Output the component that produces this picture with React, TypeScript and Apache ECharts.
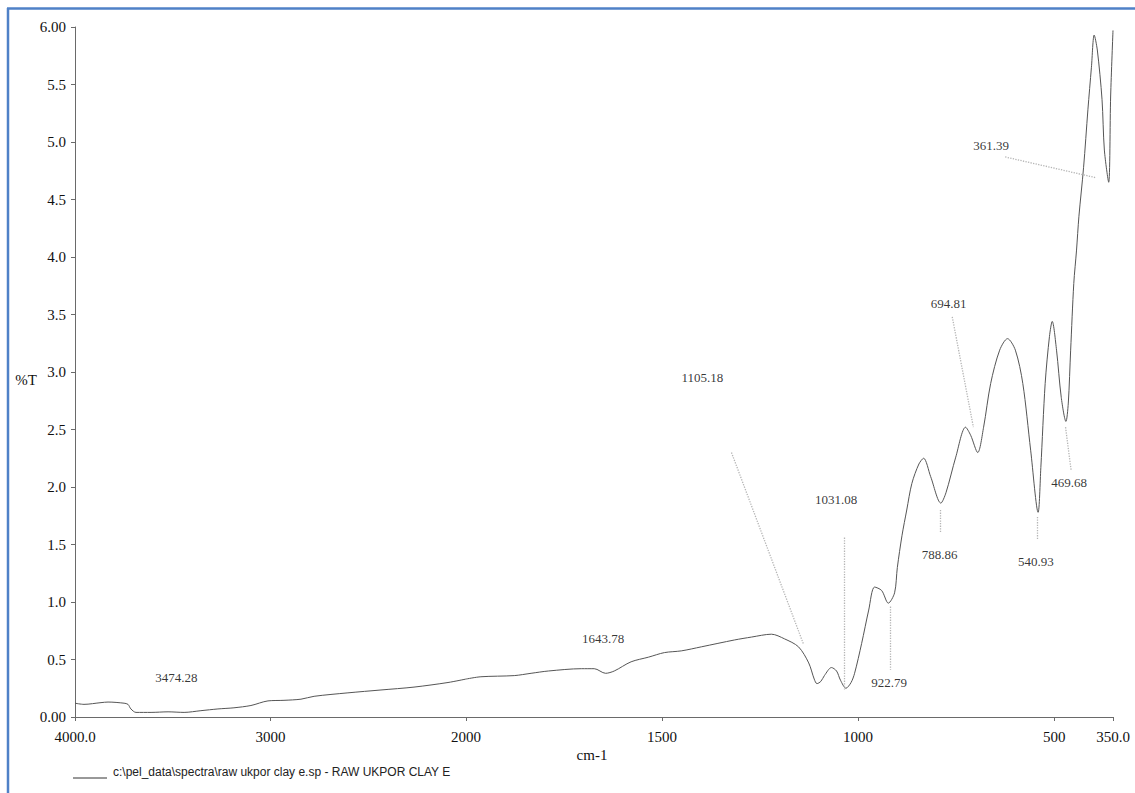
import React, { useEffect, useRef } from "react";
import * as echarts from "echarts";

// Spectrum (wavenumber cm-1, %T)
const wavenumbers = [
  4000, 3954, 3867, 3831, 3749, 3729, 3714, 3688, 3611, 3524, 3442, 3356, 3269, 3187, 3100, 3013, 2931, 2844,
  2777, 2604, 2435, 2266, 2092, 2000,
  1962, 1877, 1834, 1790, 1706, 1673, 1644, 1622, 1579, 1535, 1494, 1451, 1400, 1315, 1272, 1221, 1188, 1152,
  1126, 1112, 1105, 1095, 1086, 1068, 1055, 1045, 1031, 1018, 1009, 991, 973, 958, 940, 923, 907, 900, 888, 876,
  863, 845, 833, 815, 789, 776, 751, 726, 713, 695, 680, 662, 639, 619, 599, 580, 560, 541, 534, 523, 512,
  505, 494, 482, 470, 464, 458, 450, 443, 437, 425, 414, 405, 398, 390, 378, 372, 361, 356, 350,
];
const transmittance = [
  0.12, 0.11, 0.125, 0.13, 0.12, 0.11, 0.07, 0.04, 0.04, 0.045, 0.04, 0.055, 0.07, 0.08, 0.1, 0.14, 0.145, 0.155,
  0.18, 0.21, 0.235, 0.26, 0.3, 0.33,
  0.35, 0.36, 0.38, 0.4, 0.42, 0.42, 0.38, 0.4, 0.48, 0.52, 0.56, 0.575, 0.61, 0.67, 0.695, 0.72, 0.68, 0.61,
  0.47, 0.33, 0.29, 0.31, 0.36, 0.43, 0.4, 0.32, 0.25, 0.3, 0.38, 0.64, 0.93, 1.13, 1.1, 0.99, 1.08, 1.3, 1.58, 1.8,
  2.03, 2.2, 2.25, 2.09, 1.86, 1.95, 2.26, 2.52, 2.45, 2.3, 2.52, 2.9, 3.19, 3.29, 3.19, 2.9, 2.32, 1.78, 2.17, 2.9, 3.31,
  3.44, 3.19, 2.78, 2.57, 2.73, 3.19, 3.77, 4.06, 4.35, 4.78, 5.28, 5.65, 5.93, 5.8, 5.37, 4.93, 4.65, 5.4, 5.97,
];

const yTicks = [0, 0.5, 1, 1.5, 2, 2.5, 3, 3.5, 4, 4.5, 5, 5.5, 6];
const xTicksHigh = [4000, 3000];
const xTicksLow = [2000, 1500, 1000, 500, 350];

// Peak labels: text, label anchor [cm-1, %T], leader from / to
const peakLabels = ["3474.28", "1643.78", "1105.18", "1031.08", "922.79", "788.86", "694.81", "540.93", "469.68", "361.39"];
const labelAt: number[][] = [
  [3481, 0.34], [1650, 0.68], [1397, 2.95], [1056, 1.89], [921, 0.3],
  [792, 1.41], [769, 3.6], [547, 1.35], [462, 2.04], [661, 4.97],
];
const leaderFrom: (number[] | null)[] = [
  null, null, [1323, 2.3], [1036, 1.56], [918, 0.96], [790, 1.8], [760, 3.48], [544, 1.74], [471, 2.52], [625, 4.87],
];
const leaderTo: (number[] | null)[] = [
  null, null, [1139, 0.63], [1036, 0.24], [918, 0.41], [790, 1.6], [706, 2.52], [544, 1.54], [457, 2.15], [394, 4.69],
];

const serif = "'Liberation Serif', 'Times New Roman', serif";

export default function App() {
  const ref = useRef<HTMLDivElement>(null);
  useEffect(() => {
    if (!ref.current) return;
    const chart = echarts.init(ref.current, null, { renderer: "svg" });
    const pts = wavenumbers.map((w, i) => [w, transmittance[i]]);
    const high = pts.filter((p) => p[0] >= 2000);
    const low = pts.filter((p) => p[0] <= 2000);

    const highIdx = peakLabels.map((_, i) => i).filter((i) => labelAt[i][0] > 2000);
    const lowIdx = peakLabels.map((_, i) => i).filter((i) => labelAt[i][0] <= 2000);

    const labelSeries = (idx: number[], axis: number) => ({
      type: "scatter",
      xAxisIndex: axis,
      yAxisIndex: axis,
      symbolSize: 1,
      itemStyle: { color: "rgba(0,0,0,0)" },
      silent: true,
      data: idx.map((i) => ({ name: peakLabels[i], value: labelAt[i] })),
      label: {
        show: true,
        position: "inside",
        formatter: "{b}",
        color: "#000",
        fontFamily: serif,
        fontSize: 13,
      },
      z: 5,
    });

    const leaders = lowIdx
      .filter((i) => leaderFrom[i] && leaderTo[i])
      .map((i) => [{ coord: leaderFrom[i] }, { coord: leaderTo[i] }]);

    const axisLineStyle = { color: "#6a6a6a", width: 1 };

    chart.setOption({
      animation: false,
      backgroundColor: "#ffffff",
      grid: [
        { left: 75, top: 27, width: 391, height: 690 },
        { left: 466, top: 27, width: 647, height: 690 },
      ],
      xAxis: [
        {
          type: "value",
          gridIndex: 0,
          min: 2000,
          max: 4000,
          interval: 1000,
          inverse: true,
          axisLine: { lineStyle: axisLineStyle },
          axisTick: { show: true, length: 4, lineStyle: axisLineStyle, customValues: xTicksHigh },
          splitLine: { show: false },
          axisLabel: {
            customValues: xTicksHigh,
            margin: 12,
            color: "#111",
            fontFamily: serif,
            fontSize: 15,
            formatter: (v: number) => (v === 4000 ? "4000.0" : String(v)),
          },
        },
        {
          type: "value",
          gridIndex: 1,
          min: 350,
          max: 2000,
          inverse: true,
          axisLine: { lineStyle: axisLineStyle },
          axisTick: { show: true, length: 4, lineStyle: axisLineStyle, customValues: xTicksLow },
          splitLine: { show: false },
          axisLabel: {
            customValues: xTicksLow,
            margin: 12,
            color: "#111",
            fontFamily: serif,
            fontSize: 15,
            showMinLabel: true,
            showMaxLabel: true,
            formatter: (v: number) => (v === 350 ? "350.0" : String(v)),
          },
        },
      ],
      yAxis: [
        {
          type: "value",
          gridIndex: 0,
          min: 0,
          max: 6,
          interval: 0.5,
          axisLine: { show: true, lineStyle: axisLineStyle },
          axisTick: { show: true, length: 4, lineStyle: axisLineStyle },
          splitLine: { show: false },
          axisLabel: {
            margin: 9,
            color: "#111",
            fontFamily: serif,
            fontSize: 15,
            customValues: yTicks,
            formatter: (v: number) => (v === 0 || v === 6 ? v.toFixed(2) : v.toFixed(1)),
          },
        },
        {
          type: "value",
          gridIndex: 1,
          min: 0,
          max: 6,
          show: false,
          splitLine: { show: false },
        },
      ],
      series: [
        {
          type: "line",
          xAxisIndex: 0,
          yAxisIndex: 0,
          data: high,
          showSymbol: false,
          smooth: 0.3,
          lineStyle: { color: "#555", width: 1 },
          silent: true,
        },
        {
          type: "line",
          xAxisIndex: 1,
          yAxisIndex: 1,
          data: low,
          showSymbol: false,
          smooth: 0.3,
          lineStyle: { color: "#555", width: 1 },
          silent: true,
          markLine: {
            silent: true,
            symbol: ["none", "none"],
            label: { show: false },
            lineStyle: { color: "#b5b5b5", type: "dotted", width: 1.3 },
            data: leaders,
          },
        },
        labelSeries(highIdx, 0),
        labelSeries(lowIdx, 1),
      ],
      graphic: [
        { type: "line", shape: { x1: 8, y1: 8, x2: 8, y2: 793 }, style: { stroke: "#4f81c7", lineWidth: 2.5 } },
        { type: "line", shape: { x1: 7, y1: 8.5, x2: 1135, y2: 8.5 }, style: { stroke: "#4f81c7", lineWidth: 2.5 } },
        {
          type: "text",
          x: 26,
          y: 380,
          style: { text: "%T", fill: "#111", font: `15px ${serif}`, textAlign: "center", textVerticalAlign: "middle" },
        },
        {
          type: "text",
          x: 592,
          y: 755,
          style: { text: "cm-1", fill: "#111", font: `15px ${serif}`, textAlign: "center", textVerticalAlign: "middle" },
        },
        { type: "line", shape: { x1: 73, y1: 778, x2: 107, y2: 778 }, style: { stroke: "#333", lineWidth: 1 } },
        {
          type: "text",
          x: 113,
          y: 772,
          style: {
            text: "c:\\pel_data\\spectra\\raw ukpor clay e.sp - RAW UKPOR CLAY E",
            fill: "#222",
            font: "12px 'Liberation Sans', Arial, sans-serif",
            textAlign: "left",
            textVerticalAlign: "middle",
          },
        },
      ],
    });
    return () => chart.dispose();
  }, []);
  return (
    <div
      ref={ref}
      style={{ position: "fixed", left: 0, top: 0, width: 1135, height: 793, background: "#fff" }}
    />
  );
}
